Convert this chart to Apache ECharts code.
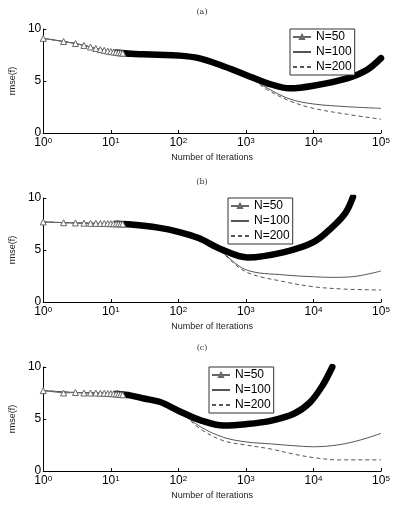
<!DOCTYPE html>
<html>
<head>
<meta charset="utf-8">
<script src="https://cdn.jsdelivr.net/npm/echarts@6/dist/echarts.min.js"></script>
<style>
    html, body {margin: 0; padding: 0; background: #fff;}
    #main {width: 399px; height: 510px;}
</style>
</head>
<body>
<div id="main"></div>
<script>
    // iterations where the N=50 triangles are still apart
    var markX = [1, 2, 3, 4, 5, 6, 7, 8, 9, 10, 11, 12, 13, 14, 15];

    // (a)
    var a50Mark = [9.1, 8.8, 8.6, 8.42, 8.27, 8.13, 8.02, 7.95, 7.88, 7.83, 7.79, 7.75, 7.72, 7.7, 7.68];
    var a50BandX = [12, 20, 30, 50, 100, 200, 417, 1000, 2090, 4470, 10000, 31600, 61700, 100000];
    var a50Band = [7.75, 7.62, 7.57, 7.52, 7.45, 7.2, 6.54, 5.58, 4.78, 4.3, 4.55, 5.26, 6.06, 7.2];
    var a100X = [1, 3, 10, 30, 100, 200, 417, 1000, 2090, 4470, 10000, 31600, 100000];
    var a100 = [9.1, 8.6, 7.83, 7.57, 7.45, 7.2, 6.54, 5.58, 4.3, 3.27, 2.79, 2.53, 2.37];
    var a200X = [1, 3, 10, 30, 100, 200, 417, 1000, 2090, 4470, 10000, 31600, 100000];
    var a200 = [9.1, 8.6, 7.83, 7.57, 7.45, 7.2, 6.54, 5.58, 4.15, 3.08, 2.37, 1.8, 1.32];

    // (b)
    var b50Mark = [7.7, 7.62, 7.6, 7.58, 7.57, 7.56, 7.55, 7.55, 7.54, 7.53, 7.52, 7.52, 7.51, 7.5, 7.5];
    var b50BandX = [12, 20, 50, 100, 200, 420, 1070, 3700, 10000, 19000, 30000, 38500];
    var b50Band = [7.52, 7.45, 7.15, 6.75, 6.15, 5.1, 4.28, 4.8, 5.75, 7.2, 8.6, 10.1];
    var b100X = [1, 3, 10, 30, 100, 200, 420, 1000, 3700, 10000, 19000, 40000, 100000];
    var b100 = [7.7, 7.6, 7.53, 7.35, 6.75, 6.15, 4.9, 3.1, 2.6, 2.43, 2.37, 2.45, 2.98];
    var b200X = [1, 3, 10, 30, 100, 200, 420, 1000, 3700, 10000, 27000, 100000];
    var b200 = [7.7, 7.6, 7.53, 7.35, 6.75, 6.15, 4.85, 2.9, 1.95, 1.47, 1.25, 1.15];

    // (c)
    var c50Mark = [7.73, 7.5, 7.55, 7.5, 7.5, 7.5, 7.48, 7.47, 7.45, 7.44, 7.42, 7.4, 7.38, 7.36, 7.33];
    var c50BandX = [12, 20, 31, 54, 100, 219, 470, 1000, 2400, 5130, 8900, 13700, 19000];
    var c50Band = [7.42, 7.25, 6.97, 6.63, 5.8, 4.85, 4.37, 4.5, 4.85, 5.5, 6.6, 8.25, 10.0];
    var c100X = [1, 3, 10, 31, 54, 100, 219, 470, 1000, 2400, 5130, 10000, 23600, 50600, 100000];
    var c100 = [7.73, 7.55, 7.44, 6.97, 6.63, 5.8, 4.2, 3.23, 2.8, 2.6, 2.43, 2.33, 2.52, 3.0, 3.62];
    var c200X = [1, 3, 10, 31, 54, 100, 219, 470, 1000, 2400, 5130, 10000, 23600, 100000];
    var c200 = [7.73, 7.55, 7.44, 6.97, 6.63, 5.8, 3.98, 2.9, 2.5, 2.1, 1.62, 1.29, 1.07, 1.07];

    var panelTitles = ['(a)', '(b)', '(c)'];
    var yTicks = [0, 5, 10];

    function pairs(xs, ys) {
        return xs.map(function (x, i) {
            return [x, ys[i]];
        });
    }

    var panels = [
        {mark: a50Mark, bandX: a50BandX, band: a50Band, x100: a100X, y100: a100, x200: a200X, y200: a200,
            top: 29, titleTop: 3, legendLeft: 290},
        {mark: b50Mark, bandX: b50BandX, band: b50Band, x100: b100X, y100: b100, x200: b200X, y200: b200,
            top: 198, titleTop: 173, legendLeft: 228},
        {mark: c50Mark, bandX: c50BandX, band: c50Band, x100: c100X, y100: c100, x200: c200X, y200: c200,
            top: 367, titleTop: 339, legendLeft: 209}
    ];

    var font = 'Liberation Sans, Arial, sans-serif';
    var option = {
        animation: false,
        backgroundColor: '#fff',
        title: [], grid: [], xAxis: [], yAxis: [], legend: [], series: []
    };

    panels.forEach(function (p, i) {
        option.title.push({
            text: panelTitles[i], left: 197, top: p.titleTop, textAlign: 'center',
            textStyle: {fontFamily: 'DejaVu Serif, serif', fontSize: 8, fontWeight: 'normal', color: '#333'}
        });
        option.grid.push({left: 28, right: 18, top: p.top, height: 104});
        option.xAxis.push({
            type: 'log', logBase: 10, min: 1, max: 100000, gridIndex: i,
            name: 'Number of Iterations', nameLocation: 'middle', nameGap: 20,
            nameTextStyle: {fontFamily: font, fontSize: 9, color: '#222'},
            axisLine: {lineStyle: {color: '#000', width: 1}},
            axisTick: {inside: true, length: 3, lineStyle: {color: '#000'}},
            splitLine: {show: false},
            axisLabel: {
                margin: 4, color: '#000', fontFamily: font, fontSize: 12, showMaxLabel: true, showMinLabel: true,
                formatter: function (v) {
                    return '10{sup|' + Math.round(Math.log10(v)) + '}';
                },
                rich: {sup: {fontSize: 8, fontFamily: font, color: '#000', verticalAlign: 'top', lineHeight: 8}}
            }
        });
        option.yAxis.push({
            type: 'value', min: yTicks[0], max: yTicks[2], interval: 5, gridIndex: i,
            name: 'rmse(f)', nameLocation: 'middle', nameGap: 19, nameRotate: 90,
            nameTextStyle: {fontFamily: font, fontSize: 9, color: '#222'},
            axisLine: {show: true, lineStyle: {color: '#000', width: 1}},
            axisTick: {show: true, inside: true, length: 3, lineStyle: {color: '#000'}},
            splitLine: {show: false},
            axisLabel: {margin: 2, color: '#000', fontFamily: font, fontSize: 12}
        });
        option.legend.push({
            data: [
                {name: 'N=50'},
                {name: 'N=100', itemStyle: {opacity: 0}},
                {name: 'N=200', itemStyle: {opacity: 0}}
            ],
            orient: 'vertical', left: p.legendLeft, top: p.top,
            backgroundColor: '#fff', borderColor: '#333', borderWidth: 1, borderRadius: 0,
            padding: [2, 3, 2, 2], itemGap: 3, itemWidth: 18, itemHeight: 5,
            textStyle: {fontFamily: font, fontSize: 12, color: '#000', lineHeight: 10}
        });
        // thin lines first so the thick band sits on top
        option.series.push({
            name: 'N=100', type: 'line', xAxisIndex: i, yAxisIndex: i,
            data: pairs(p.x100, p.y100), smooth: 0.35,
            showSymbol: false, symbol: 'none',
            lineStyle: {color: '#555', width: 1}, itemStyle: {color: '#555'}
        });
        option.series.push({
            name: 'N=200', type: 'line', xAxisIndex: i, yAxisIndex: i,
            data: pairs(p.x200, p.y200), smooth: 0.35,
            showSymbol: false, symbol: 'none',
            lineStyle: {color: '#555', width: 1, type: [4, 3]}, itemStyle: {color: '#555'}
        });
        option.series.push({
            name: 'N=50 band', type: 'line', xAxisIndex: i, yAxisIndex: i,
            data: pairs(p.bandX, p.band), smooth: 0.35,
            showSymbol: false, symbol: 'none',
            lineStyle: {color: '#000', width: 6.5, cap: 'round', join: 'round'}
        });
        option.series.push({
            name: 'N=50', type: 'line', xAxisIndex: i, yAxisIndex: i,
            data: pairs(markX, p.mark),
            symbol: 'triangle', symbolSize: 6, showAllSymbol: true,
            lineStyle: {color: '#666', width: 1},
            itemStyle: {color: '#fff', borderColor: '#666', borderWidth: 1}
        });
    });

    var chart = echarts.init(document.getElementById('main'));
    chart.setOption(option);
    window.addEventListener('resize', function () {
        chart.resize();
    });
</script>
</body>
</html>
